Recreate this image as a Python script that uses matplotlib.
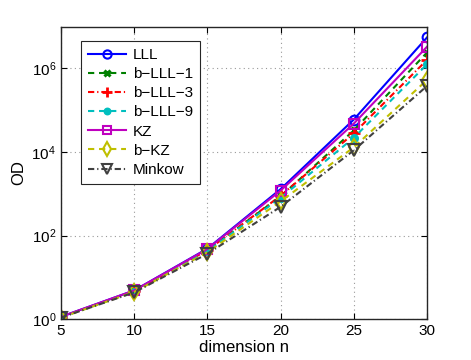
import numpy as np
import matplotlib.pyplot as plt
from matplotlib.ticker import NullLocator

plt.rcParams['font.family'] = ['Liberation Sans', 'DejaVu Sans']
plt.rcParams['mathtext.fontset'] = 'custom'
plt.rcParams['mathtext.rm'] = 'Liberation Sans'

# data
dims = [5, 10, 15, 20, 25, 30]
od_lll = [1.15, 4.9, 49, 1300, 6.0e4, 5.5e6]
od_blll1 = [1.12, 4.7, 45, 870, 3.3e4, 2.4e6]
od_blll3 = [1.12, 4.7, 45, 900, 2.8e4, 1.6e6]
od_blll9 = [1.12, 4.6, 43, 800, 2.2e4, 1.25e6]
od_kz = [1.15, 4.9, 48, 1200, 4.8e4, 3.3e6]
od_bkz = [1.1, 4.5, 40, 660, 1.3e4, 5.3e5]
od_minkow = [1.1, 4.4, 37, 490, 1.1e4, 3.8e5]

labels = ['LLL', 'b\u2212LLL\u22121', 'b\u2212LLL\u22123', 'b\u2212LLL\u22129',
          'KZ', 'b\u2212KZ', 'Minkow']

fig = plt.figure(figsize=(4.71, 3.6), dpi=100)
ax = fig.add_axes([0.1295, 0.113, 0.777, 0.813])

lw = 1.5
dash = (0, (3.0, 2.3))
dashdot = (0, (3.0, 1.4, 0.6, 1.4))
ax.plot(dims, od_lll, '-o', color=(0, 0, 1), lw=lw, ms=7, mfc='none', mew=1.5, label=labels[0])
ax.plot(dims, od_blll1, marker='x', ls=dash, color=(0, 0.5, 0), lw=lw, ms=5, mew=2.2, label=labels[1])
ax.plot(dims, od_blll3, marker='+', ls=dashdot, color=(1, 0, 0), lw=lw, ms=8, mew=2, label=labels[2])
ax.plot(dims, od_blll9, marker='o', ls=dash, color=(0, 0.75, 0.75), lw=lw, ms=5.5, mew=1, label=labels[3])
ax.plot(dims, od_kz, '-s', color=(0.75, 0, 0.75), lw=lw, ms=6.5, mfc='none', mew=1.5, label=labels[4])
ax.plot(dims, od_bkz, marker='d', ls=dash, color=(0.75, 0.75, 0), lw=lw, ms=8, mfc='none', mew=1.5, label=labels[5])
ax.plot(dims, od_minkow, marker='v', ls=dashdot, color=(0.25, 0.25, 0.25), lw=lw, ms=8, mfc='none', mew=1.5, label=labels[6])

ax.set_yscale('log')
ax.set_xlim(5, 30)
ax.set_ylim(1, 1e7)
ax.set_xticks(dims)
ax.set_yticks([1, 1e2, 1e4, 1e6])
ax.yaxis.set_minor_locator(NullLocator())
ax.tick_params(direction='in', labelsize=11, length=4, top=True, right=True)
ax.grid(True, which='major', linestyle=(0, (1, 3)), color='0.6', lw=0.8)
for s in ax.spines.values():
    s.set_linewidth(1.0)
    s.set_color('0.15')

ax.set_xlabel('dimension n', fontsize=12, labelpad=1)
ax.set_ylabel('OD', fontsize=12, labelpad=4)

leg = ax.legend(loc='upper left', bbox_to_anchor=(0.055, 0.951), borderaxespad=0,
                fontsize=11, markerscale=0.85, handlelength=2.5, labelspacing=0.34,
                borderpad=0.45, handletextpad=0.45, fancybox=False, framealpha=1)
leg.get_frame().set_edgecolor('0.15')
leg.get_frame().set_linewidth(0.8)

plt.savefig('out.png', dpi=100)
